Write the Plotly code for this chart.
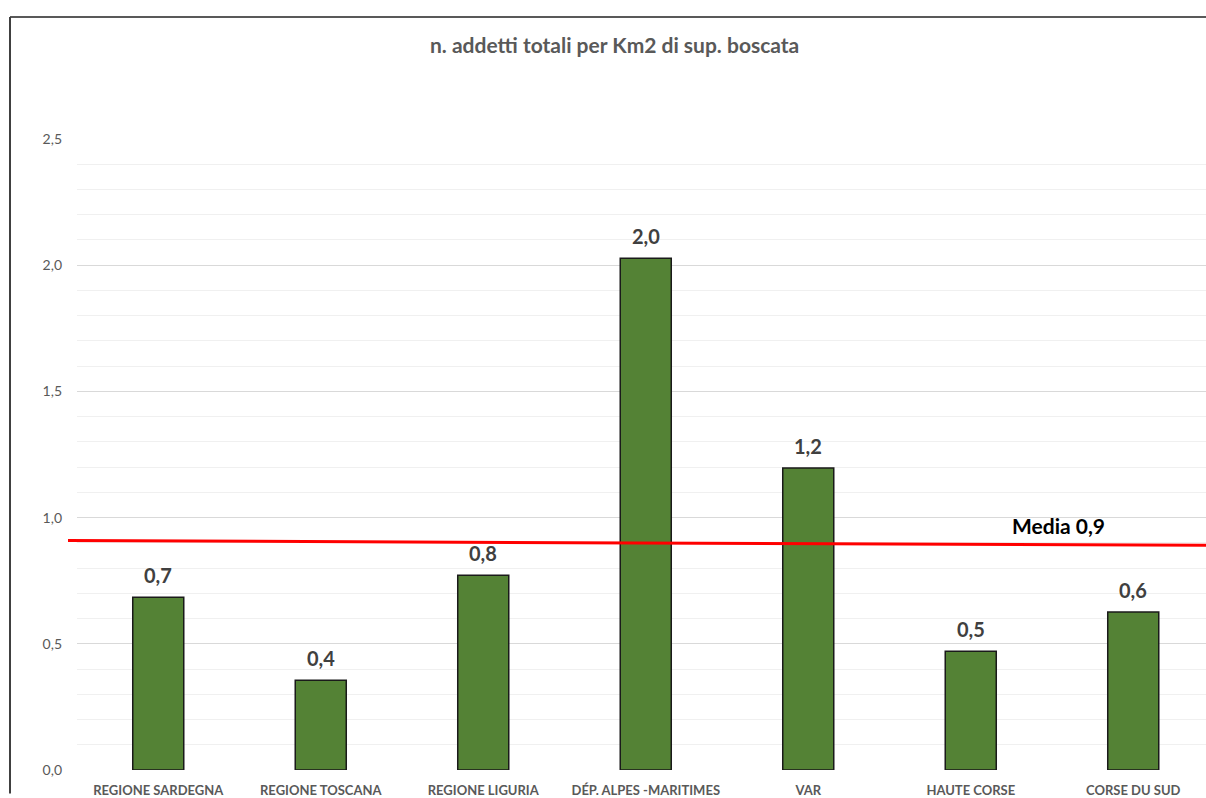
import plotly.graph_objects as go

categories = ["REGIONE SARDEGNA", "REGIONE TOSCANA", "REGIONE LIGURIA",
              "DÉP. ALPES -MARITIMES", "VAR", "HAUTE CORSE", "CORSE DU SUD"]
values = [0.684, 0.356, 0.772, 2.028, 1.197, 0.47, 0.626]
media_line = [0.909, 0.890]   # red "Media" line, left end / right end
media_label = "Media 0,9"
title_text = "n. addetti totali per Km2 di sup. boscata"
y_ticks = [0, 0.5, 1.0, 1.5, 2.0, 2.5]

FONT = "Lato"
W, H = 1206, 798
L, R, T, B = 77, 0, 139, 17
pw, ph = W - L - R, H - T - B

def px_x(p):  # window pixel -> paper x
    return (p - L) / pw

def px_y(p):  # window pixel -> paper y
    return (H - B - p) / ph

fig = go.Figure()
fig.add_trace(go.Bar(
    x=categories, y=values, width=0.314,
    marker=dict(color="#548235", line=dict(color="#1a1a1a", width=1.5)),
    hoverinfo="skip",
))

annotations = []
for c, v in zip(categories, values):
    annotations.append(dict(
        x=c, y=v, xref="x", yref="y", text=f"<b>{v:.1f}</b>".replace(".", ","),
        showarrow=False, yanchor="bottom", yshift=8,
        font=dict(family=FONT, size=20, color="#404040"),
    ))
annotations.append(dict(
    x=px_x(1058), y=px_y(532), xref="paper", yref="paper", text=f"<b>{media_label}</b>",
    showarrow=False, xanchor="center", yanchor="middle",
    font=dict(family=FONT, size=21, color="#000000"),
))
annotations.append(dict(
    x=px_x(614), y=px_y(43), xref="paper", yref="paper", text=f"<b>{title_text}</b>",
    showarrow=False, xanchor="center", yanchor="middle",
    font=dict(family=FONT, size=21, color="#595959"),
))

shapes = [
    dict(type="line", xref="paper", yref="y", x0=px_x(68), x1=px_x(1210),
         y0=media_line[0], y1=media_line[1], line=dict(color="#ff0000", width=3)),
    dict(type="line", xref="paper", yref="paper", x0=px_x(10), x1=px_x(1215),
         y0=px_y(15), y1=px_y(15), line=dict(color="#595959", width=2)),
    dict(type="line", xref="paper", yref="paper", x0=px_x(10), x1=px_x(10),
         y0=px_y(15), y1=px_y(805), line=dict(color="#404040", width=2)),
]

fig.update_layout(
    width=W, height=H,
    margin=dict(l=L, r=R, t=T, b=B, pad=0),
    paper_bgcolor="white", plot_bgcolor="white",
    separators=",.",
    showlegend=False,
    hovermode=False,
    annotations=annotations,
    shapes=shapes,
    xaxis=dict(
        range=[-0.5, -0.5 + pw / 162.5], showgrid=False, zeroline=False,
        showline=False, ticks="",
        tickfont=dict(family=FONT, size=13, color="#595959", weight="bold"),
        ticklabelstandoff=11,
    ),
    yaxis=dict(
        range=[0, 2.5], tickvals=y_ticks, tickformat=".1f",
        showgrid=True, gridcolor="#d9d9d9", gridwidth=1,
        zeroline=False, showline=False, ticks="",
        tickfont=dict(family=FONT, size=14, color="#595959"),
        ticklabelstandoff=14,
        minor=dict(dtick=0.1, showgrid=True, gridcolor="#f0f0f0", gridwidth=1),
    ),
)

fig.write_html(
    "out.html",
    config={"displayModeBar": False},
    post_script="document.body.style.margin='0';document.body.style.overflow='hidden';",
)
